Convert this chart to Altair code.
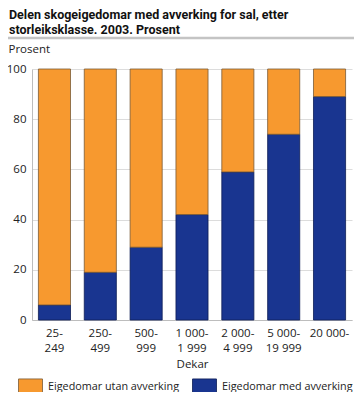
import altair as alt
import pandas as pd

categories = ["25-249", "250-499", "500-999", "1 000-1 999", "2 000-4 999", "5 000-19 999", "20 000-"]
med_avverking = [6, 19, 29, 42, 59, 74, 89]
utan_avverking = [94, 81, 71, 58, 41, 26, 11]
series_names = ["Eigedomar utan avverking", "Eigedomar med avverking"]
series_colors = ["#f7992f", "#193590"]
series_strokes = ["#7a5a36", "#0c1d55"]
title_lines = ["Delen skogeigedomar med avverking for sal, etter", "storleiksklasse. 2003. Prosent"]

rows = []
for c, m, u in zip(categories, med_avverking, utan_avverking):
    rows.append({"kat": c, "serie": series_names[1], "verdi": m, "ord": 0})
    rows.append({"kat": c, "serie": series_names[0], "verdi": u, "ord": 1})
df = pd.DataFrame(rows)

FONT = "Open Sans"
TFONT = "Roboto"
W, H = 320, 251

bars = alt.Chart(df).mark_bar(strokeWidth=0.8).encode(
    x=alt.X("kat:N", sort=categories,
            scale=alt.Scale(paddingInner=0.3, paddingOuter=0.14),
            axis=alt.Axis(title="Dekar", labelAngle=0, ticks=False, domainColor="#bdbdbd",
                          labelPadding=7, labelBaseline="top", labelLineHeight=15,
                          labelExpr="[split(datum.label,'-')[0] + '-', split(datum.label,'-')[1]]",
                          titleY=47, titleBaseline="alphabetic", titleFontWeight="normal")),
    y=alt.Y("verdi:Q", stack="zero", scale=alt.Scale(domain=[0, 100], nice=False),
            axis=alt.Axis(title="Prosent", values=[0, 20, 40, 60, 80, 100], ticks=False,
                          gridColor="#dcdcdc", domainColor="#bdbdbd", labelPadding=6,
                          titleAngle=0, titleAlign="left", titleX=-24, titleY=-17,
                          titleBaseline="alphabetic", titleFontWeight="normal")),
    fill=alt.Fill("serie:N", scale=alt.Scale(domain=series_names, range=series_colors),
                  legend=alt.Legend(title=None, orient="none", legendX=-14, legendY=305,
                                    direction="horizontal", columnPadding=10, labelOffset=5,
                                    symbolType="M-1,-0.667H1V0.667H-1Z", symbolSize=576,
                                    symbolStrokeColor="#555555", symbolStrokeWidth=0.8,
                                    labelFontSize=10.8, labelColor="#222222", labelFont=FONT)),
    stroke=alt.Stroke("serie:N", scale=alt.Scale(domain=series_names, range=series_strokes), legend=None),
    order=alt.Order("ord:Q"),
)

tdf = pd.DataFrame({"t": title_lines, "i": [0, 1]})
title1 = alt.Chart(tdf).transform_filter("datum.i == 0").mark_text(
    align="left", baseline="alphabetic", font=TFONT, fontWeight="bold", fontSize=12.5, color="#111111"
).encode(text="t:N", x=alt.value(-23), y=alt.value(-50))
title2 = alt.Chart(tdf).transform_filter("datum.i == 1").mark_text(
    align="left", baseline="alphabetic", font=TFONT, fontWeight="bold", fontSize=12.5, color="#111111"
).encode(text="t:N", x=alt.value(-23), y=alt.value(-35.5))

line_top = alt.Chart(tdf).transform_filter("datum.i == 0").mark_rule(color="#c4c4c4", strokeWidth=2.5).encode(
    x=alt.value(-30), x2=alt.value(340), y=alt.value(-31))
line_bot = alt.Chart(tdf).transform_filter("datum.i == 0").mark_rule(color="#c4c4c4", strokeWidth=2.5).encode(
    x=alt.value(-30), x2=alt.value(340), y=alt.value(328))

chart = alt.layer(bars, title1, title2, line_top, line_bot).properties(
    width=W, height=H,
    autosize=alt.AutoSizeParams(type="none"),
    padding={"left": 24, "top": 61, "right": 2, "bottom": 72},
).configure_view(stroke=None).configure_axis(
    labelFont=FONT, titleFont=FONT, labelFontSize=11.5, titleFontSize=11.5,
    labelColor="#222222", titleColor="#222222"
)

chart.save("out.html", embed_options={"renderer": "svg", "actions": False})
